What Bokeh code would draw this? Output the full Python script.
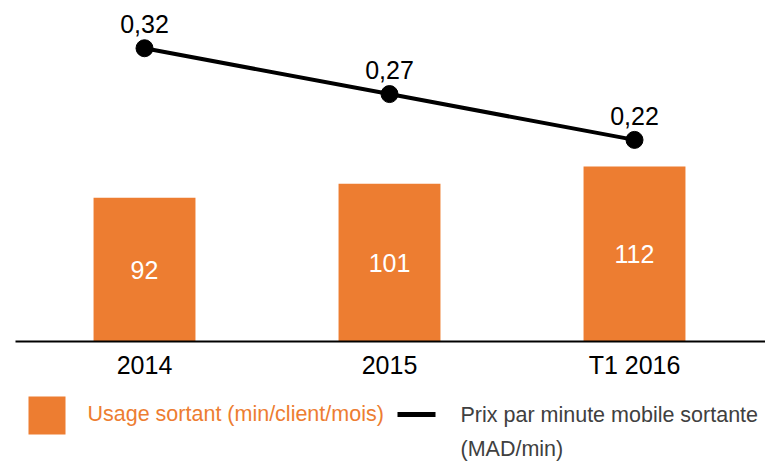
from bokeh.plotting import figure
from bokeh.models import Range1d, FixedTicker, ColumnDataSource, BoxAnnotation, Label, LinearAxis
from bokeh.core.properties import value
from bokeh.embed import file_html
from bokeh.resources import INLINE

categories = ["2014", "2015", "T1 2016"]
usage = [92, 101, 112]
price = [0.32, 0.27, 0.22]
usage_label = "Usage sortant (min/client/mois)"
price_label_1 = "Prix par minute mobile sortante"
price_label_2 = "(MAD/min)"

ORANGE = "#ED7D31"
FONT = "Liberation Sans"

xs = list(range(len(categories)))
src = ColumnDataSource(dict(
    x=xs,
    usage=usage,
    half=[u / 2 for u in usage],
    usage_txt=[str(u) for u in usage],
    price=price,
    price_txt=[f"{v:.2f}".replace(".", ",") for v in price],
))

p = figure(width=765, height=461, output_backend="svg", toolbar_location=None,
           x_range=Range1d(-0.5878, 2.5347), y_range=Range1d(-76.8, 218.3),
           min_border_left=0, min_border_right=0, min_border_top=0, min_border_bottom=0,
           x_axis_location=None, y_axis_location=None)
p.extra_y_ranges = {"price": Range1d(-0.1309, 0.3721)}
p.outline_line_color = None
p.xgrid.visible = False
p.ygrid.visible = False
p.background_fill_color = "white"
p.border_fill_color = "white"

p.vbar(x="x", top="usage", bottom=0, width=0.416, source=src, fill_color=ORANGE, line_color=None)
p.text(x="x", y="half", text="usage_txt", source=src, text_color="white",
       text_font=value(FONT), text_font_size="25px", text_align="center", text_baseline="middle")

p.line(x="x", y="price", source=src, line_color="black", line_width=4, y_range_name="price")
p.scatter(x="x", y="price", source=src, size=17, fill_color="black", line_color="black",
          y_range_name="price")
p.text(x="x", y="price", text="price_txt", source=src, text_color="black",
       text_font=value(FONT), text_font_size="25px", text_align="center",
       text_baseline="alphabetic", y_offset=-24, y_range_name="price")

ax = LinearAxis(fixed_location=0, bounds=(-0.527, 2.535))
p.add_layout(ax, "below")
ax.ticker = FixedTicker(ticks=xs)
ax.major_label_overrides = {i: c for i, c in zip(xs, categories)}
ax.axis_line_color = "black"
ax.axis_line_width = 2
ax.major_tick_line_color = None
ax.minor_tick_line_color = None
ax.major_tick_out = 0
ax.major_tick_in = 0
ax.major_label_standoff = 9
ax.major_label_text_font = FONT
ax.major_label_text_font_size = "25px"
ax.major_label_text_color = "black"

# legend (screen units relative to frame: x from left, y up from bottom)
p.add_layout(BoxAnnotation(left=28, right=65, top=65, bottom=27,
                           left_units="screen", right_units="screen",
                           top_units="screen", bottom_units="screen",
                           fill_color=ORANGE, fill_alpha=1, line_color=None))
p.add_layout(Label(x=87, y=48, x_units="screen", y_units="screen", text=usage_label,
                   text_color=ORANGE, text_font=FONT, text_font_size="21.5px",
                   text_baseline="alphabetic"))
p.add_layout(BoxAnnotation(left=397, right=435, top=49.5, bottom=44.5,
                           left_units="screen", right_units="screen",
                           top_units="screen", bottom_units="screen",
                           fill_color="black", fill_alpha=1, line_color=None))
p.add_layout(Label(x=460, y=47, x_units="screen", y_units="screen", text=price_label_1,
                   text_color="#404040", text_font=FONT, text_font_size="21.5px",
                   text_baseline="alphabetic"))
p.add_layout(Label(x=460, y=13, x_units="screen", y_units="screen", text=price_label_2,
                   text_color="#404040", text_font=FONT, text_font_size="21.5px",
                   text_baseline="alphabetic"))

open("out.html", "w").write(file_html(p, INLINE))
